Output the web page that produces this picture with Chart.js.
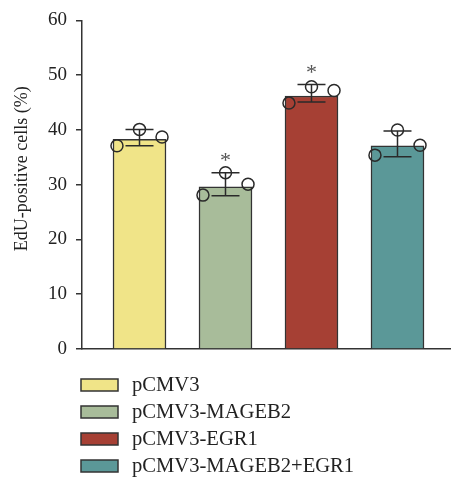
<!DOCTYPE html>
<html lang="en">
<head>
  <meta charset="UTF-8" />
  <title>EdU-positive cells</title>
  <script src="https://cdn.jsdelivr.net/npm/chart.js"></script>
  <style>
    body { margin: 0; background: #fff; }
    canvas { display: block; }
  </style>
</head>
<body>
  <canvas id="eduChart" width="451" height="482"></canvas>

  <script>
    const groups = ['pCMV3', 'pCMV3-MAGEB2', 'pCMV3-EGR1', 'pCMV3-MAGEB2+EGR1'];
    const means = [38.3, 29.6, 46.2, 37.1];
    const rep1 = [37.1, 28.1, 44.9, 35.4];
    const rep2 = [40.1, 32.2, 47.9, 40.0];
    const rep3 = [38.7, 30.1, 47.2, 37.2];
    const errLow = [37.1, 28.0, 45.1, 35.1];
    const errHigh = [40.1, 32.2, 48.3, 39.8];
    const marks = ['', '*', '*', ''];
    const yTicks = [0, 10, 20, 30, 40, 50, 60];
    const yTitle = 'EdU-positive cells (%)';

    const colors = ['#f0e488', '#a8bc9a', '#a64034', '#5b9898'];
    const ink = '#2a2a2a';
    const serif = "'Liberation Serif', 'Times New Roman', serif";
    const jitter = [-0.262, 0, 0.262];

    // bars sit at x = 1..4 on a linear axis
    const barData = means.map((v, i) => ({ x: i + 1, y: v }));
    const dots = [];
    [rep1, rep2, rep3].forEach((rep, k) => {
      rep.forEach((v, i) => dots.push({ x: i + 1 + jitter[k], y: v }));
    });

    const errorBars = {
      id: 'errorBars',
      afterDatasetsDraw(chart) {
        const { ctx, scales: { x, y } } = chart;
        ctx.save();
        ctx.strokeStyle = ink;
        ctx.lineWidth = 1.5;
        means.forEach((m, i) => {
          const cx = x.getPixelForValue(i + 1);
          const lo = y.getPixelForValue(errLow[i]);
          const hi = y.getPixelForValue(errHigh[i]);
          ctx.beginPath();
          ctx.moveTo(cx, lo); ctx.lineTo(cx, hi);
          ctx.moveTo(cx - 14, lo); ctx.lineTo(cx + 14, lo);
          ctx.moveTo(cx - 14, hi); ctx.lineTo(cx + 14, hi);
          ctx.stroke();
          if (marks[i]) {
            ctx.fillStyle = '#555';
            ctx.font = '22px ' + serif;
            ctx.textAlign = 'center';
            ctx.textBaseline = 'middle';
            ctx.fillText(marks[i], cx, hi - 11);
          }
        });
        ctx.restore();
      }
    };

    // legend in one column under the plot, plus the y title a bit above centre
    const boxLegend = {
      id: 'boxLegend',
      afterDraw(chart) {
        const { ctx, chartArea } = chart;
        ctx.save();
        ctx.font = '20.6px ' + serif;
        ctx.textBaseline = 'middle';
        ctx.textAlign = 'left';
        groups.forEach((g, i) => {
          const cy = chartArea.bottom + 36 + i * 27;
          ctx.fillStyle = colors[i];
          ctx.fillRect(81, cy - 6, 37, 12);
          ctx.strokeStyle = '#333';
          ctx.lineWidth = 1.5;
          ctx.strokeRect(81, cy - 6, 37, 12);
          ctx.fillStyle = '#222';
          ctx.fillText(g, 132, cy + 1);
        });

        ctx.translate(22, (chartArea.top + chartArea.bottom) / 2 - 16);
        ctx.rotate(-Math.PI / 2);
        ctx.font = '18px ' + serif;
        ctx.textAlign = 'center';
        ctx.fillText(yTitle, 0, 0);
        ctx.restore();
      }
    };

    new Chart(document.getElementById('eduChart'), {
      type: 'bar',
      data: {
        datasets: [
          {
            type: 'scatter',
            data: dots,
            pointRadius: 6,
            pointHoverRadius: 6,
            pointBorderWidth: 1.5,
            borderColor: ink,
            backgroundColor: 'rgba(0,0,0,0)',
            order: 0
          },
          {
            data: barData,
            backgroundColor: colors,
            borderColor: '#333',
            borderWidth: 1.5,
            barThickness: 53,
            order: 1
          }
        ]
      },
      options: {
        responsive: false,
        animation: false,
        devicePixelRatio: 1,
        layout: { autoPadding: false, padding: { top: 17, bottom: 133, left: 0, right: 1 } },
        plugins: {
          legend: { display: false },
          tooltip: { enabled: false }
        },
        scales: {
          x: {
            type: 'linear',
            min: 0.3314,
            max: 4.6105,
            offset: false,
            grid: { display: false },
            ticks: { display: false },
            border: { display: true, color: '#333', width: 1.5 },
            afterFit: s => { s.height = 0; }
          },
          y: {
            min: 0,
            max: 60,
            afterBuildTicks: s => { s.ticks = yTicks.map(v => ({ value: v })); },
            ticks: {
              color: '#222',
              padding: 9,
              font: { family: serif, size: 19 }
            },
            grid: {
              drawOnChartArea: false,
              drawTicks: true,
              tickLength: 6,
              color: '#333',
              lineWidth: 1.5
            },
            border: { display: true, color: '#333', width: 1.5 },
            afterFit: s => { s.width = 82; }
          }
        }
      },
      plugins: [errorBars, boxLegend]
    });
  </script>
</body>
</html>
